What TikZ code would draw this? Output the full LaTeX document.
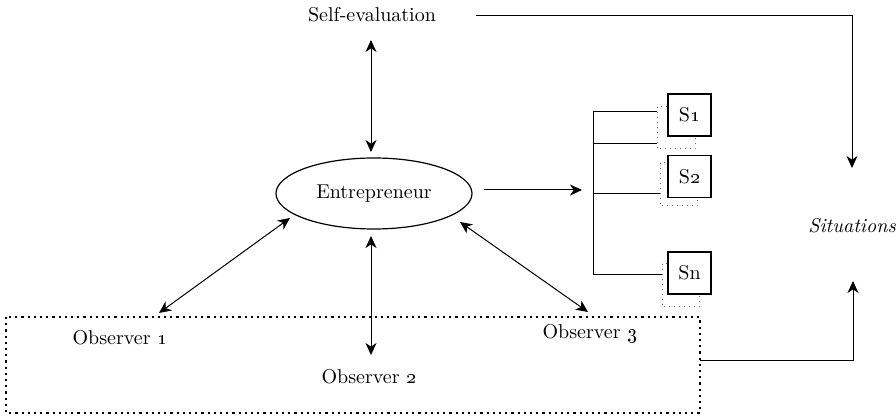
\documentclass[tikz,border=0pt]{standalone}
\usetikzlibrary{arrows.meta,shapes.geometric}
\begin{document}
\begin{tikzpicture}[x=0.5pt,y=-0.5pt,
  line/.style={line width=0.5pt},
  tip/.tip={Stealth[length=6pt,width=5.5pt,inset=1.8pt]},
  arr/.style={line, -tip},
  dbl/.style={line, tip-tip},
  sbox/.style={draw, line width=0.55pt, fill=white, minimum width=21.5pt, minimum height=21pt, inner sep=0pt},
  shad/.style={draw=black!60, dotted, line width=0.5pt},
  lbl/.style={inner sep=0pt, font=\normalsize}]
\useasboundingbox (0,0) rectangle (896,416);

% nodes
\node[lbl] (se) at (372,15) {Self-evaluation};
\node[draw, ellipse, line width=0.6pt, minimum width=98pt, minimum height=35.5pt, inner sep=0pt] (ent) at (374,193.5) {Entrepreneur};
\node[lbl, font=\itshape] (sit) at (852,226) {Situations};
\node[lbl] (o1) at (120,338) {Observer \oldstylenums{1}};
\node[lbl] (o2) at (369,377) {Observer \oldstylenums{2}};
\node[lbl] (o3) at (590,333) {Observer \oldstylenums{3}};

% observer dotted box
\draw[dotted, line width=1.1pt] (6,317) rectangle (700,413);
\coordinate (boxr) at (700,361);

% shadows and S boxes
\draw[shad] (657,107) rectangle (695,149);
\node[sbox] (s1) at (689.5,115) {S\oldstylenums{1}};
\draw[shad] (660,163) rectangle (697,206);
\node[sbox] (s2) at (689.5,176.5) {S\oldstylenums{2}};
\draw[shad] (662,264) rectangle (699,307);
\node[sbox] (sn) at (689.5,273) {Sn};

% bracket
\draw[line] (657,112) -| (593,275) -- (662,275);
\draw[line] (593,144) -- (657,144);
\draw[line] (593,194) -- (660,194);

% arrows
\coordinate (seb) at (371,40);
\coordinate (ent1) at (371,152);
\draw[dbl] (seb) -- (ent1);

\coordinate (ea) at (484,190);
\coordinate (eb) at (582,190);
\draw[arr] (ea) -- (eb);

\coordinate (e1) at (290,218);
\coordinate (o1t) at (159,313);
\draw[dbl] (e1) -- (o1t);

\coordinate (e2) at (371,236);
\coordinate (o2t) at (371,355);
\draw[dbl] (e2) -- (o2t);

\coordinate (e3) at (460,222);
\coordinate (o3t) at (588,312);
\draw[dbl] (e3) -- (o3t);

% to situations
\coordinate (sea) at (476,16);
\coordinate (sit1) at (852,168);
\coordinate (sit2) at (853,281);
\draw[arr] (sea) -| (sit1);
\draw[arr] (boxr) -| (sit2);
\end{tikzpicture}
\end{document}
